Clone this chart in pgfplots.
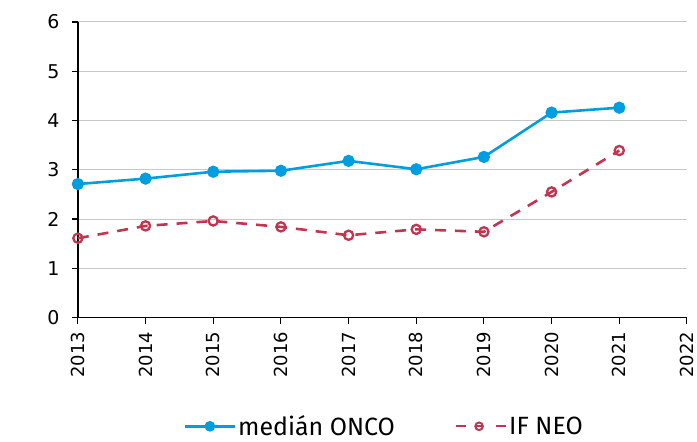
\documentclass[border=0pt]{standalone}
\usepackage{fontspec}
\setmainfont{DejaVu Sans}
\newfontfamily\legfont{Fira Sans}
\usepackage{pgfplots}
\pgfplotsset{compat=1.18}
\definecolor{cblue}{RGB}{0,158,224}
\definecolor{cred}{RGB}{196,52,78}
\definecolor{cgrid}{RGB}{200,200,200}
\begin{document}
\begin{tikzpicture}
\begin{axis}[
  scale only axis,
  width=610pt, height=296pt,
  xmin=2013, xmax=2022, ymin=0, ymax=6,
  xtick={2013,...,2022},
  ytick={0,...,6},
  xticklabel style={rotate=90, anchor=east, font=\fontsize{18}{20}\selectfont},
  yticklabel style={font=\fontsize{19}{21}\selectfont},
  xticklabel shift=5pt,
  yticklabel shift=9pt,
  x tick label style={/pgf/number format/1000 sep={}},
  /pgf/number format/assume math mode=true,
  axis x line*=bottom, axis y line*=left,
  axis line style={black, line width=1.6pt, -},
  tick style={black, line width=1.2pt},
  major tick length=6pt,
  tick align=outside,
  ymajorgrids, grid style={cgrid, line width=1pt},
  clip=false,
  legend columns=2,
  legend style={at={(0.503,-0.368)}, anchor=center, draw=none, fill=none,
    font=\legfont\fontsize{25}{27}\selectfont,
    /tikz/every even column/.append style={column sep=58pt}},
  legend cell align=left,
]
\addplot[cblue, line width=2.6pt, mark=*, mark size=4.8pt, mark options={solid, fill=cblue, draw=cblue},
  legend image code/.code={\draw[cblue, line width=2.6pt, solid] (0pt,0pt) -- (50pt,0pt); \fill[cblue] (25pt,0pt) circle (4pt);}]
  coordinates {(2013,2.71)(2014,2.82)(2015,2.96)(2016,2.98)(2017,3.18)(2018,3.01)(2019,3.26)(2020,4.16)(2021,4.26)};
\addlegendentry{medián ONCO}
\addplot[cred, line width=2.6pt, dash pattern=on 11pt off 9pt, mark=o, mark size=4.6pt, mark options={solid, fill=white, draw=cred, line width=2.3pt},
  legend image code/.code={\draw[cred, line width=2pt, solid] (23pt,0pt) circle (3.8pt); \draw[cred, line width=2.4pt, solid] (0pt,0pt) -- (10pt,0pt) (20pt,0pt) -- (26pt,0pt) (40pt,0pt) -- (50pt,0pt);}]
  coordinates {(2013,1.61)(2014,1.86)(2015,1.96)(2016,1.84)(2017,1.67)(2018,1.79)(2019,1.74)(2020,2.55)(2021,3.39)};
\addlegendentry{IF NEO}
\end{axis}
\path (current axis.south west) ++(-78pt,-119pt) rectangle ++(697pt,437pt);
\end{tikzpicture}
\end{document}
